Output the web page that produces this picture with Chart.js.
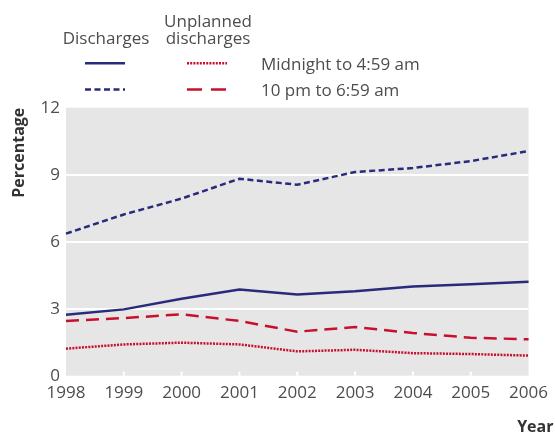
<!DOCTYPE html>
<html>
<head>
<script src="https://cdn.jsdelivr.net/npm/chart.js"></script>
<title>Discharges</title>
<style>
  body { margin: 0; background: #fff; }
  #box { width: 555px; height: 433px; position: relative; }
</style>
</head>
<body>
<div id="box"><canvas id="myChart"></canvas></div>
<script>
const years = ['1998', '1999', '2000', '2001', '2002', '2003', '2004', '2005', '2006'];
const dischMidnight = [2.73, 2.97, 3.45, 3.86, 3.64, 3.78, 3.99, 4.10, 4.21];
const dischTenPm = [6.36, 7.22, 7.93, 8.82, 8.55, 9.12, 9.30, 9.61, 10.06];
const unplMidnight = [1.21, 1.40, 1.48, 1.40, 1.09, 1.16, 1.01, 0.97, 0.90];
const unplTenPm = [2.45, 2.58, 2.75, 2.45, 1.97, 2.18, 1.91, 1.70, 1.63];
const yTicks = [0, 3, 6, 9, 12];

const NAVY = '#2a2a7c';
const RED = '#c8102e';
const TEXT = '#4d4d4d';
const FONT = '"Open Sans"';

// grey plot background + little white year ticks
const plotBg = {
  id: 'plotBg',
  beforeDraw(chart) {
    const {ctx, chartArea: a} = chart;
    ctx.save();
    ctx.fillStyle = '#e6e6e6';
    ctx.fillRect(a.left, a.top, a.right - a.left, a.bottom - a.top);
    ctx.restore();
  },
  afterDatasetsDraw(chart) {
    const {ctx, chartArea: a} = chart;
    const xs = chart.scales.x;
    ctx.save();
    ctx.strokeStyle = '#fff';
    ctx.lineWidth = 2;
    years.forEach((y, i) => {
      if (i === 0 || i === years.length - 1) return;
      const x = xs.getPixelForValue(i);
      ctx.beginPath();
      ctx.moveTo(x, a.bottom - 4);
      ctx.lineTo(x, a.bottom);
      ctx.stroke();
    });
    ctx.restore();
  }
};

// two-column legend and "Year" label
const legendBlock = {
  id: 'legendBlock',
  afterDraw(chart) {
    const ctx = chart.ctx;
    ctx.save();
    ctx.font = '17px ' + FONT;
    ctx.fillStyle = TEXT;
    ctx.textBaseline = 'alphabetic';
    ctx.textAlign = 'center';
    ctx.fillText('Discharges', 106, 43.5);
    ctx.fillText('Unplanned', 208, 26.5);
    ctx.fillText('discharges', 208, 43.5);
    ctx.textAlign = 'left';
    ctx.fillText('Midnight to 4:59 am', 261, 69.5);
    ctx.fillText('10 pm to 6:59 am', 261, 96);

    const sample = (x1, x2, y, color, dash) => {
      ctx.beginPath();
      ctx.strokeStyle = color;
      ctx.lineWidth = 2.5;
      ctx.setLineDash(dash);
      ctx.moveTo(x1, y);
      ctx.lineTo(x2, y);
      ctx.stroke();
    };
    sample(85, 125, 63.3, NAVY, []);
    sample(187, 227, 63.3, RED, [2, 1.2]);
    sample(85, 125, 89.5, NAVY, [6, 3.5]);
    sample(187, 227, 89.5, RED, [15, 9]);
    ctx.setLineDash([]);

    ctx.font = 'bold 16px ' + FONT;
    ctx.fillStyle = '#333';
    ctx.textAlign = 'right';
    ctx.fillText('Year', 553.5, 431.5);
    ctx.restore();
  }
};

const line = (label, data, color, dash) => ({
  label: label,
  data: data,
  borderColor: color,
  borderWidth: 2.5,
  borderDash: dash,
  pointRadius: 0,
  tension: 0,
  fill: false
});

const ctx = document.getElementById('myChart');
new Chart(ctx, {
  type: 'line',
  data: {
    labels: years,
    datasets: [
      line('Discharges, midnight to 4:59 am', dischMidnight, NAVY, []),
      line('Discharges, 10 pm to 6:59 am', dischTenPm, NAVY, [6, 3.5]),
      line('Unplanned discharges, midnight to 4:59 am', unplMidnight, RED, [2, 1.2]),
      line('Unplanned discharges, 10 pm to 6:59 am', unplTenPm, RED, [13, 7])
    ]
  },
  options: {
    responsive: true,
    maintainAspectRatio: false,
    animation: false,
    layout: { padding: { top: 107.7, right: 21, left: 0, bottom: 0 } },
    plugins: {
      legend: { display: false },
      tooltip: { enabled: false }
    },
    scales: {
      x: {
        offset: false,
        grid: { display: false, drawTicks: false },
        border: { display: false },
        ticks: { color: TEXT, font: { family: FONT, size: 17 }, padding: 7, maxRotation: 0, autoSkip: false },
        afterFit: s => { s.height = 57.3; }
      },
      y: {
        min: 0,
        max: 12,
        afterBuildTicks: s => { s.ticks = yTicks.map(v => ({ value: v })); },
        grid: {
          color: c => (c.tick.value === 0 || c.tick.value === 12) ? 'rgba(0,0,0,0)' : '#fff',
          lineWidth: 2,
          drawTicks: false
        },
        border: { display: false },
        ticks: { color: TEXT, font: { family: FONT, size: 17 }, padding: 6 },
        title: {
          display: true,
          text: 'Percentage',
          align: 'end',
          color: '#333',
          font: { family: FONT, size: 16, weight: 'bold' },
          padding: { top: 10, bottom: 0 }
        },
        afterFit: s => { s.width = 66; }
      }
    }
  },
  plugins: [plotBg, legendBlock]
});
</script>
</body>
</html>
